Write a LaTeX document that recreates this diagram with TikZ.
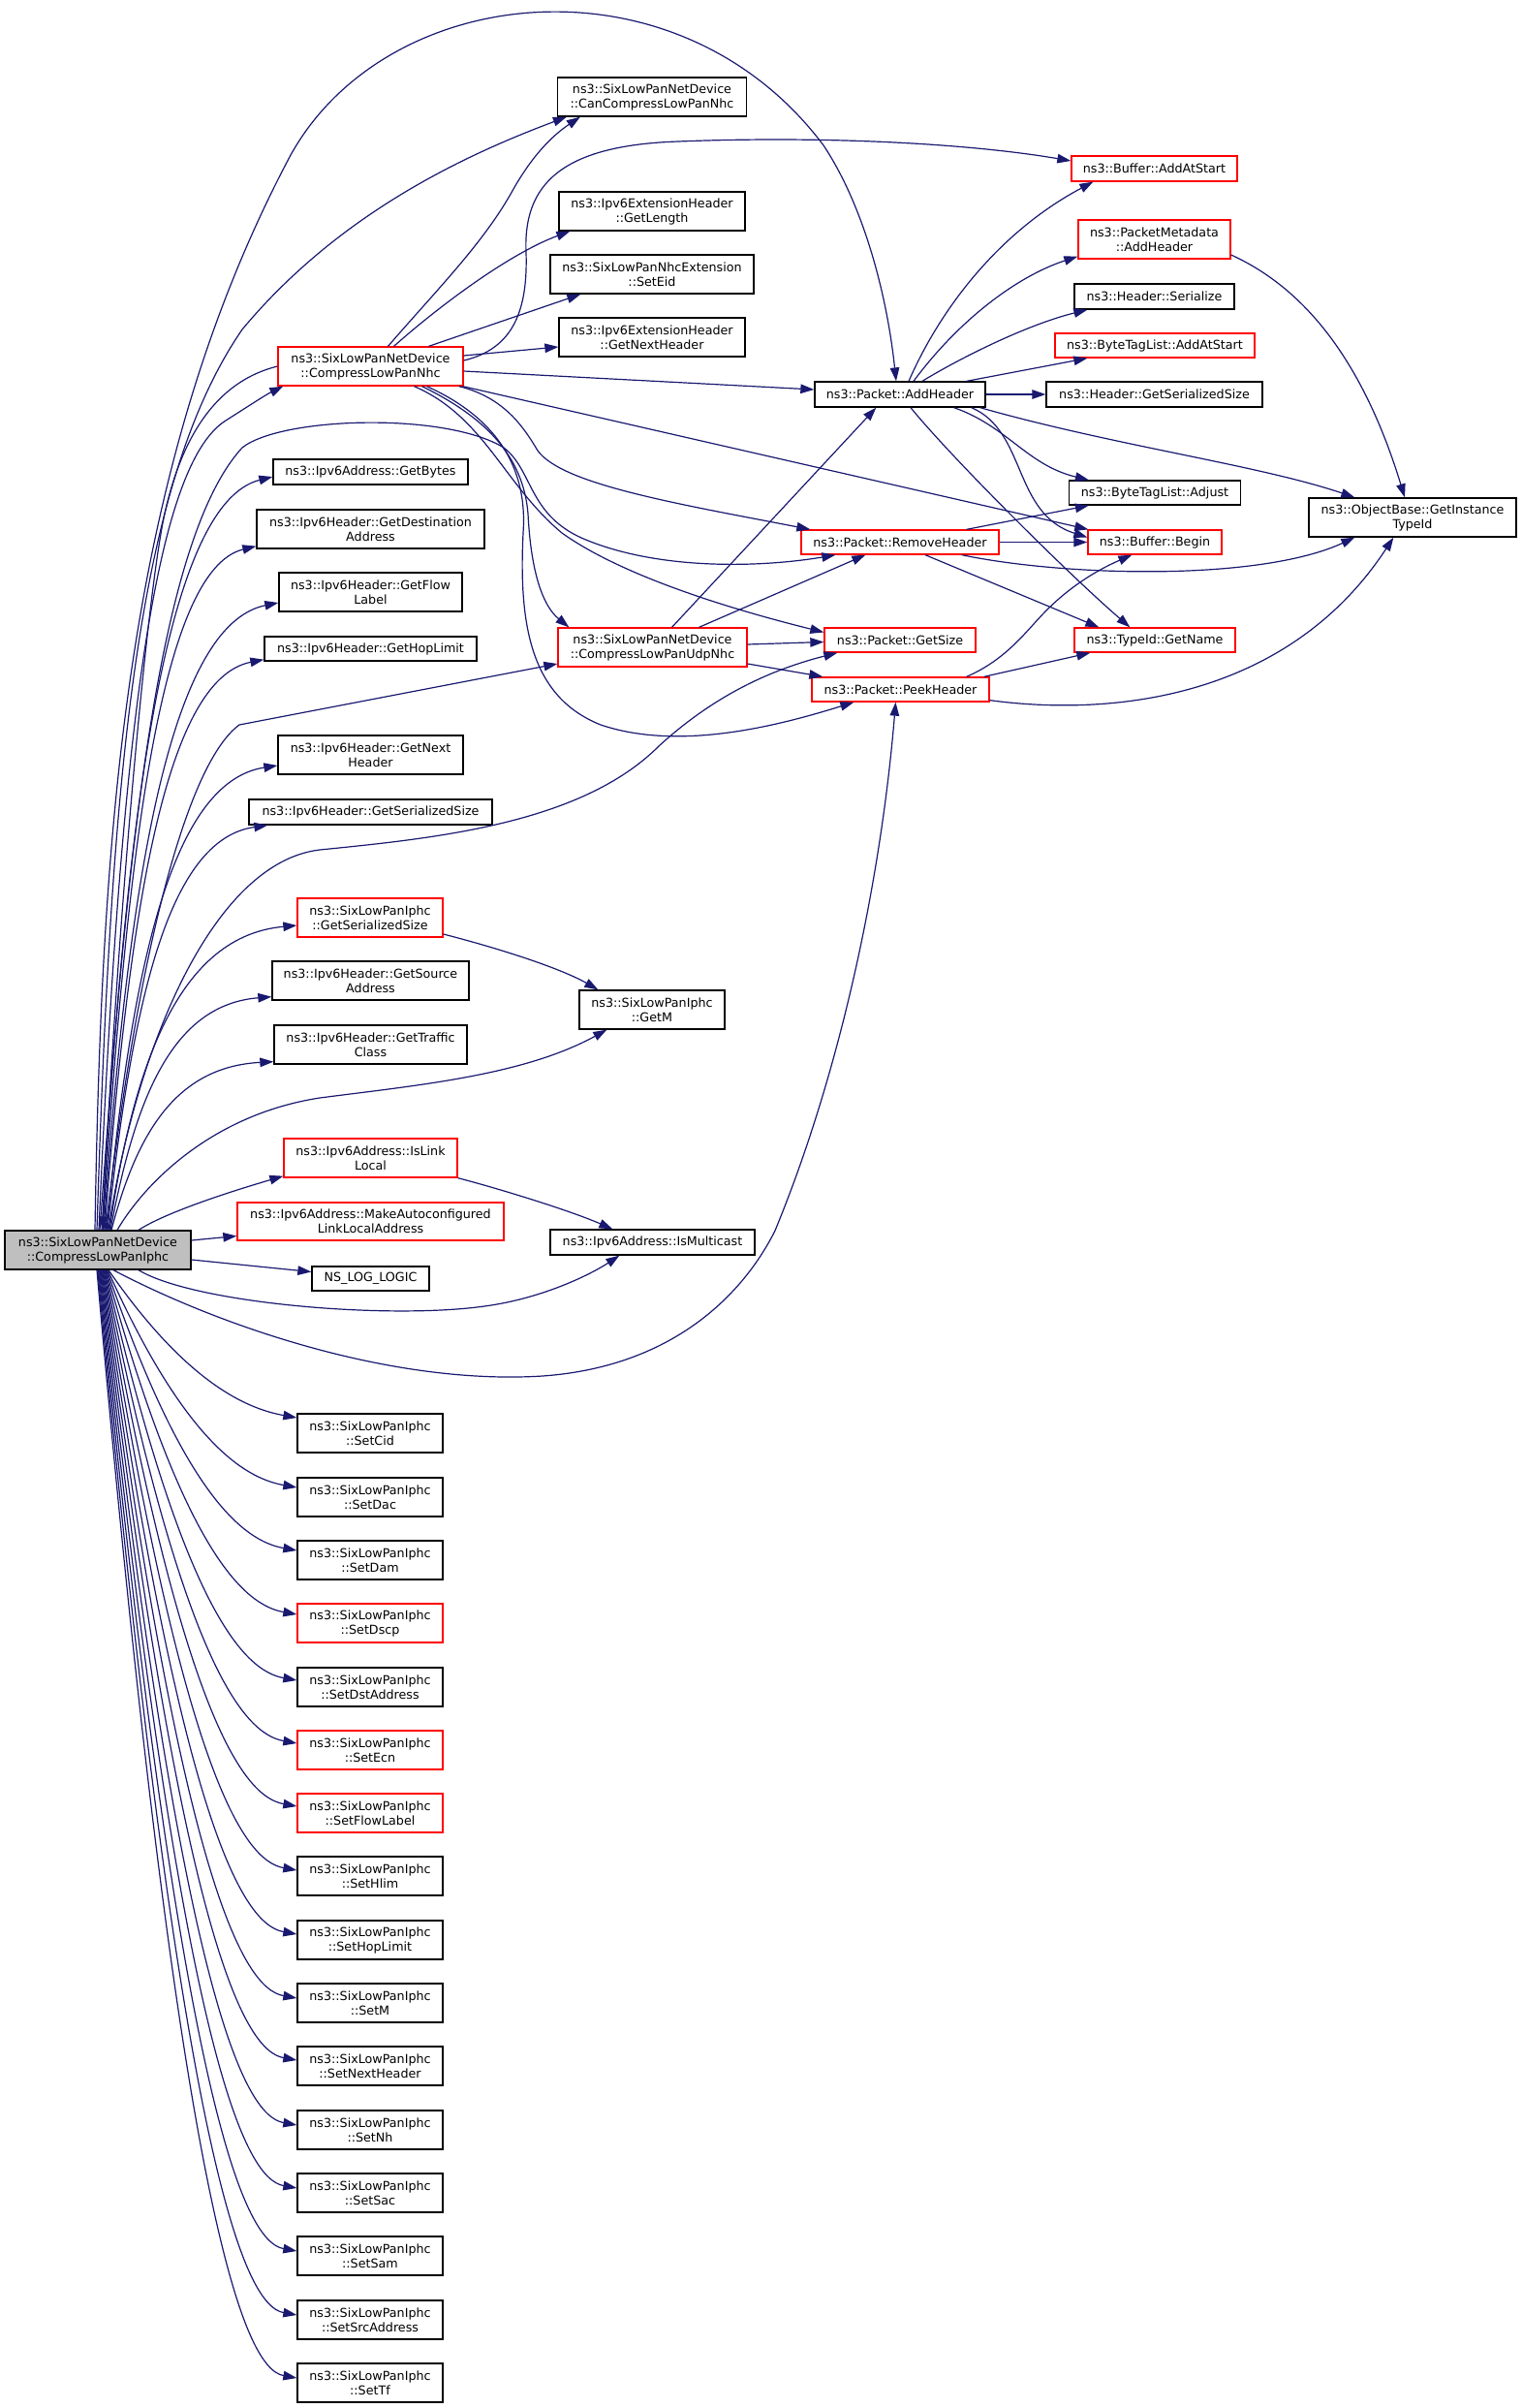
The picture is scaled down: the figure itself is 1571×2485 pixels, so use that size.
\documentclass[tikz,border=0pt]{standalone}
\usepackage{fontspec}
\setmainfont{DejaVu Sans}
\usetikzlibrary{arrows.meta,calc}
\definecolor{edgec}{RGB}{25,25,112}
\definecolor{redc}{RGB}{255,0,0}
\definecolor{grayc}{RGB}{191,191,191}
\begin{document}
\begin{tikzpicture}[x=1pt,y=-1pt,
  box/.style={draw=black,line width=1.3pt,inner sep=0pt,align=center,font=\fontsize{12.7}{15}\selectfont},
  rbox/.style={box,draw=redc},
  e/.style={draw=edgec,line width=1.2pt,-{Triangle[length=14pt,width=9.5pt]}}]
\useasboundingbox (0,0) rectangle (1571,2485);

% ---------- nodes ----------
\node[box,fill=grayc,minimum width=192pt,minimum height=40pt] (iphc) at (101,1290) {ns3::SixLowPanNetDevice\\::CompressLowPanIphc};
\node[box,minimum width=195pt,minimum height=40pt] (cancomp) at (673,100) {ns3::SixLowPanNetDevice\\::CanCompressLowPanNhc};
\node[box,minimum width=192pt,minimum height=40pt] (getlen) at (673,218) {ns3::Ipv6ExtensionHeader\\::GetLength};
\node[box,minimum width=210pt,minimum height=40pt] (seteid) at (673,283) {ns3::SixLowPanNhcExtension\\::SetEid};
\node[box,minimum width=192pt,minimum height=40pt] (extnext) at (673,348) {ns3::Ipv6ExtensionHeader\\::GetNextHeader};
\node[rbox,minimum width=191pt,minimum height=40pt] (cnhc) at (382.5,378) {ns3::SixLowPanNetDevice\\::CompressLowPanNhc};
\node[rbox,minimum width=171pt,minimum height=26pt] (addatstart) at (1191.5,174) {ns3::Buffer::AddAtStart};
\node[rbox,minimum width=157pt,minimum height=40pt] (pmadd) at (1191.5,247) {ns3::PacketMetadata\\::AddHeader};
\node[box,minimum width=165pt,minimum height=26pt] (hser) at (1191.5,306) {ns3::Header::Serialize};
\node[rbox,minimum width=206pt,minimum height=25pt] (btladd) at (1192,356.5) {ns3::ByteTagList::AddAtStart};
\node[box,minimum width=176pt,minimum height=26pt] (addh) at (929,407) {ns3::Packet::AddHeader};
\node[box,minimum width=223pt,minimum height=26pt] (hgss) at (1191.5,407) {ns3::Header::GetSerializedSize};
\node[box,minimum width=177pt,minimum height=25pt] (btladj) at (1192,508.5) {ns3::ByteTagList::Adjust};
\node[box,minimum width=214pt,minimum height=40pt] (gitid) at (1458,534) {ns3::ObjectBase::GetInstance\\TypeId};
\node[rbox,minimum width=204pt,minimum height=25pt] (remh) at (929,559.5) {ns3::Packet::RemoveHeader};
\node[rbox,minimum width=138pt,minimum height=25pt] (bufbeg) at (1192,559.5) {ns3::Buffer::Begin};
\node[rbox,minimum width=195pt,minimum height=40pt] (udp) at (673.5,668) {ns3::SixLowPanNetDevice\\::CompressLowPanUdpNhc};
\node[rbox,minimum width=156pt,minimum height=25pt] (getsize) at (929,660.5) {ns3::Packet::GetSize};
\node[rbox,minimum width=183pt,minimum height=25pt] (peek) at (929.5,711.5) {ns3::Packet::PeekHeader};
\node[rbox,minimum width=166pt,minimum height=25pt] (getname) at (1192,660.5) {ns3::TypeId::GetName};
\node[box,minimum width=201pt,minimum height=26pt] (getbytes) at (382.5,487) {ns3::Ipv6Address::GetBytes};
\node[box,minimum width=235pt,minimum height=40pt] (getdest) at (382.5,546) {ns3::Ipv6Header::GetDestination\\Address};
\node[box,minimum width=189pt,minimum height=40pt] (getflow) at (382.5,611) {ns3::Ipv6Header::GetFlow\\Label};
\node[box,minimum width=219pt,minimum height=25pt] (gethop) at (382.5,669.5) {ns3::Ipv6Header::GetHopLimit};
\node[box,minimum width=191pt,minimum height=40pt] (getnext) at (382.5,779) {ns3::Ipv6Header::GetNext\\Header};
\node[box,minimum width=251pt,minimum height=26pt] (getss6) at (382.5,838) {ns3::Ipv6Header::GetSerializedSize};
\node[rbox,minimum width=150pt,minimum height=40pt] (iphcgss) at (382,947) {ns3::SixLowPanIphc\\::GetSerializedSize};
\node[box,minimum width=203pt,minimum height=40pt] (getsrc) at (382.5,1012) {ns3::Ipv6Header::GetSource\\Address};
\node[box,minimum width=199pt,minimum height=40pt] (gettc) at (382.5,1078) {ns3::Ipv6Header::GetTraffic\\Class};
\node[box,minimum width=150pt,minimum height=40pt] (getm) at (673,1042) {ns3::SixLowPanIphc\\::GetM};
\node[rbox,minimum width=179pt,minimum height=40pt] (isll) at (382.5,1195) {ns3::Ipv6Address::IsLink\\Local};
\node[rbox,minimum width=275pt,minimum height=39pt] (mkauto) at (382.5,1260.5) {ns3::Ipv6Address::MakeAutoconfigured\\LinkLocalAddress};
\node[box,minimum width=211pt,minimum height=26pt] (ismc) at (673.5,1282) {ns3::Ipv6Address::IsMulticast};
\node[box,minimum width=121pt,minimum height=25pt] (nslog) at (382.5,1319.5) {NS\_LOG\_LOGIC};

% ---------- Set* column ----------
\foreach \nm/\lab/\cy/\k/\off/\col in {
 setcid/SetCid/1479/0/16/black,
 setdac/SetDac/1545/1/10/black,
 setdam/SetDam/1610/2/10/black,
 setdscp/SetDscp/1675/3/9/redc,
 setdst/SetDstAddress/1741/4/7/black,
 setecn/SetEcn/1806/5/7/redc,
 setfl/SetFlowLabel/1871/6/7/redc,
 sethlim/SetHlim/1936/7/6/black,
 sethop/SetHopLimit/2002/8/6/black,
 setm/SetM/2067/9/5/black,
 setnxt/SetNextHeader/2132/10/6/black,
 setnh/SetNh/2198/11/5/black,
 setsac/SetSac/2263/12/5/black,
 setsam/SetSam/2328/13/5/black,
 setsrc/SetSrcAddress/2394/14/5/black,
 settf/SetTf/2459/15/5/black}
{
 \node[box,draw=\col,minimum width=150pt,minimum height=40pt] (\nm) at (382,\cy) {ns3::SixLowPanIphc\\::\lab};
 \pgfmathsetmacro\xo{112-0.8*\k}
 \pgfmathsetmacro\ty{\cy-\off}
 \pgfmathsetmacro\ca{\xo+0.65*(230-\xo)}
 \pgfmathsetmacro\cb{\ty-0.14*(\ty-1310)-20}
 \pgfmathsetmacro\cc{\ty-10}
 \pgfmathsetmacro\dx{\xo-101}
 \draw[e] ($(iphc.south)+(\dx,0)$) .. controls (\ca,\cb) and (250,\cc) .. ($(\nm.west)+(0,-\off)$);
}

% ---------- edges from CompressLowPanIphc (top fan) ----------
\draw[e] ($(iphc.north)+(-3,0)$) .. controls (105,850) and (130,480) .. (300,160) .. controls (400,-20) and (700,-50) .. (850,150) .. controls (890,210) and (915,300) .. ($(addh.north)+(-4,0)$);
\draw[e] ($(iphc.north)+(-1,0)$) .. controls (115,800) and (140,500) .. (250,340) .. controls (350,220) and (480,160) .. ($(cancomp.south west)+(10,0)$);
\draw[e] ($(iphc.north)+(1,0)$) .. controls (125,750) and (160,480) .. (233,434) .. controls (255,420) and (275,407) .. ($(cnhc.south west)+(6,0)$);
\draw[e] (cnhc.west) .. controls (230,392) and (190,440) .. (170,530) .. controls (150,620) and (118,1000) .. ($(iphc.north)+(5,0)$);
\draw[e] ($(iphc.north)+(2,0)$) .. controls (130,900) and (160,560) .. (250,462) .. controls (290,430) and (460,425) .. (520,462) .. controls (550,485) and (545,530) .. (600,555) .. controls (680,590) and (790,585) .. ($(remh.south west)+(36,0)$);
\draw[e] ($(iphc.north)+(4,0)$) .. controls (130,842) and (170,520) .. ($(getbytes.west)+(0,5)$);
\draw[e] ($(iphc.north)+(5,0)$) .. controls (131,881) and (165,588) .. ($(getdest.south west)+(0,-3)$);
\draw[e] ($(iphc.north)+(6,0)$) .. controls (132,914) and (174,645) .. ($(getflow.west)+(0,11)$);
\draw[e] ($(iphc.north)+(7,0)$) .. controls (133,945) and (169,701) .. ($(gethop.south west)+(0,-2)$);
\draw[e] ($(iphc.north)+(8,0)$) .. controls (140,1000) and (190,790) .. (247,748) -- ($(udp.west)+(0,17)$);
\draw[e] ($(iphc.north)+(9,0)$) .. controls (135,1006) and (175,807) .. ($(getnext.west)+(0,11)$);
\draw[e] ($(iphc.north)+(10,0)$) .. controls (136,1040) and (172,866) .. ($(getss6.south west)+(20,0)$);
\draw[e] ($(iphc.north)+(11,0)$) .. controls (140,1080) and (220,890) .. (330,877) .. controls (450,865) and (600,850) .. (680,770) .. controls (740,715) and (800,690) .. ($(getsize.south west)+(14,0)$);
\draw[e] ($(iphc.north)+(12,0)$) .. controls (138,1097) and (185,966) .. ($(iphcgss.west)+(0,8)$);
\draw[e] ($(iphc.north)+(13,0)$) .. controls (139,1137) and (176,1037) .. ($(getsrc.south west)+(0,-4)$);
\draw[e] ($(iphc.north)+(14,0)$) .. controls (140,1174) and (179,1101) .. ($(gettc.south west)+(0,-3)$);
\draw[e] ($(iphc.north)+(20,0)$) .. controls (150,1220) and (220,1150) .. (330,1133) .. controls (430,1120) and (540,1110) .. ($(getm.south west)+(29,0)$);
\draw[e] ($(iphc.north)+(42,0)$) .. controls (170,1252) and (230,1232) .. ($(isll.south west)+(0,-2)$);
% right side
\draw[e] ($(iphc.east)+(0,-10)$) -- ($(mkauto.west)+(0,15)$);
\draw[e] ($(iphc.east)+(0,10)$) -- ($(nslog.west)+(0,-7)$);
% bottom
\draw[e] ($(iphc.south)+(42,0)$) .. controls (200,1345) and (400,1362) .. (500,1348) .. controls (560,1340) and (610,1315) .. ($(ismc.south west)+(72,0)$);
\draw[e] ($(iphc.south)+(16,0)$) .. controls (220,1365) and (400,1430) .. (560,1420) .. controls (700,1410) and (770,1330) .. (800,1270) .. controls (870,1100) and (910,900) .. ($(peek.south)+(-5,0)$);

% ---------- edges from CompressLowPanNhc ----------
\draw[e] ($(cnhc.north)+(18,0)$) .. controls (450,300) and (500,250) .. (530,195) .. controls (550,160) and (570,140) .. ($(cancomp.south west)+(24,0)$);
\draw[e] ($(cnhc.north)+(24,0)$) .. controls (460,310) and (530,260) .. ($(getlen.south west)+(12,0)$);
\draw[e] ($(cnhc.north)+(60,0)$) -- ($(seteid.south west)+(32,0)$);
\draw[e] ($(cnhc.east)+(0,-11)$) -- ($(extnext.west)+(0,10)$);
\draw[e] ($(cnhc.east)+(0,-6)$) .. controls (530,360) and (545,320) .. (543,260) .. controls (540,190) and (580,150) .. (700,146) .. controls (850,140) and (1000,148) .. ($(addatstart.west)+(0,-8)$);
\draw[e] ($(cnhc.east)+(0,5)$) -- ($(addh.west)+(0,-5)$);
\draw[e] ($(cnhc.south east)+(-1,0)$) -- ($(bufbeg.north west)+(1,0)$);
\draw[e] ($(cnhc.south east)+(-5,0)$) .. controls (520,410) and (540,440) .. (555,465) .. controls (580,500) and (700,520) .. ($(remh.north west)+(10,0)$);
\draw[e] ($(cnhc.south)+(45,0)$) .. controls (500,430) and (520,500) .. (580,550) .. controls (650,600) and (780,635) .. ($(getsize.west)+(0,-8)$);
\draw[e] ($(cnhc.south)+(53,0)$) .. controls (500,430) and (540,470) .. (545,530) .. controls (548,590) and (560,625) .. ($(udp.north west)+(12,0)$);
\draw[e] ($(cnhc.south)+(58,0)$) .. controls (510,430) and (545,480) .. (540,550) .. controls (535,650) and (550,720) .. (620,748) .. controls (700,775) and (800,750) .. ($(peek.south west)+(44,0)$);

% ---------- edges from Packet::AddHeader ----------
\draw[e] ($(addh.north)+(9,0)$) .. controls (970,320) and (1030,240) .. ($(addatstart.south west)+(23,0)$);
\draw[e] ($(addh.north)+(14,0)$) .. controls (990,330) and (1050,285) .. ($(pmadd.south west)+(0,-3)$);
\draw[e] ($(addh.north)+(23,0)$) .. controls (990,370) and (1060,335) .. ($(hser.south west)+(14,0)$);
\draw[e] ($(addh.north east)+(-20,0)$) -- ($(btladd.south west)+(34,0)$);
\draw[e] (addh.east) -- (hgss.west);
\draw[e] ($(addh.south east)+(-33,0)$) .. controls (1040,440) and (1060,480) .. ($(btladj.north west)+(21,0)$);
\draw[e] ($(addh.south east)+(-15,0)$) .. controls (1060,445) and (1045,530) .. ($(bufbeg.west)+(0,-5)$);
\draw[e] ($(addh.south east)+(-6,0)$) .. controls (1150,460) and (1300,480) .. ($(gitid.north west)+(48,0)$);
\draw[e] ($(addh.south)+(11,0)$) .. controls (980,470) and (1100,590) .. ($(getname.north west)+(58,0)$);

% ---------- edges from Packet::RemoveHeader ----------
\draw[e] ($(remh.north east)+(-34,0)$) -- ($(btladj.south west)+(21,0)$);
\draw[e] (remh.east) -- (bufbeg.west);
\draw[e] ($(remh.south east)+(-39,0)$) .. controls (1100,595) and (1300,600) .. ($(gitid.south west)+(48,0)$);
\draw[e] ($(remh.south)+(26,0)$) -- ($(getname.north west)+(26,0)$);

% ---------- edges from CompressLowPanUdpNhc ----------
\draw[e] ($(udp.north)+(20,0)$) -- ($(addh.south west)+(64,0)$);
\draw[e] ($(udp.north)+(48,0)$) -- ($(remh.south west)+(67,0)$);
\draw[e] ($(udp.east)+(0,-3)$) -- ($(getsize.west)+(0,2)$);
\draw[e] ($(udp.east)+(0,17)$) -- ($(peek.north west)+(12,0)$);

% ---------- edges from Packet::PeekHeader ----------
\draw[e] ($(peek.north east)+(-24,0)$) .. controls (1040,680) and (1060,650) .. (1080,630) .. controls (1110,600) and (1140,585) .. ($(bufbeg.south west)+(46,0)$);
\draw[e] ($(peek.north east)+(-6,0)$) -- ($(getname.south west)+(17,0)$);
\draw[e] ($(peek.south east)+(0,-2)$) .. controls (1150,740) and (1330,720) .. ($(gitid.south west)+(88,0)$);

% ---------- other ----------
\draw[e] ($(pmadd.east)+(0,16)$) .. controls (1330,290) and (1400,350) .. ($(gitid.north)+(-8,0)$);
\draw[e] ($(iphcgss.east)+(0,17)$) .. controls (520,980) and (580,1000) .. ($(getm.north west)+(20,0)$);
\draw[e] (isll.south east) .. controls (520,1228) and (590,1250) .. ($(ismc.north west)+(65,0)$);
\end{tikzpicture}
\end{document}
